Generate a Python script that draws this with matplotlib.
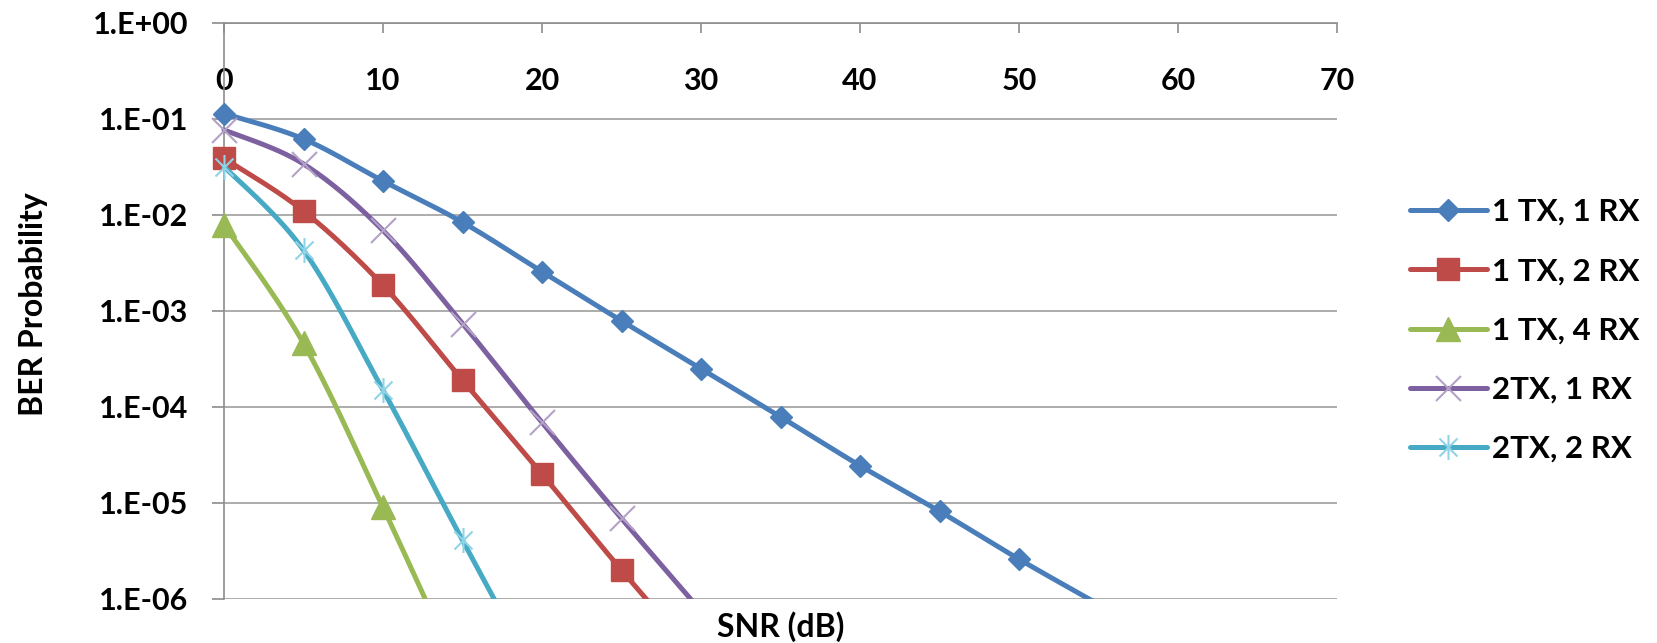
import numpy as np
import matplotlib
matplotlib.use('Agg')
import matplotlib.pyplot as plt
from matplotlib.lines import Line2D
from matplotlib.path import Path
from matplotlib.patches import Rectangle
from matplotlib.ticker import LogLocator, NullLocator, FuncFormatter

# ---------------- data ----------------
snr_1tx_1rx = [0, 5, 10, 15, 20, 25, 30, 35, 40, 45, 50, 55]
ber_1tx_1rx = [0.114, 0.062, 0.0226, 0.0084, 0.00257, 0.00079, 0.00025, 7.9e-5, 2.45e-5, 8.2e-6, 2.6e-6, 8.8e-7]

snr_1tx_2rx = [0, 5, 10, 15, 20, 25, 30]
ber_1tx_2rx = [0.039, 0.011, 0.00185, 0.00019, 2.0e-5, 2.0e-6, 2.2e-7]

snr_1tx_4rx = [0, 5, 10, 15]
ber_1tx_4rx = [0.0079, 0.00046, 9.0e-6, 1.4e-7]

snr_2tx_1rx = [0, 5, 10, 15, 20, 25, 30]
ber_2tx_1rx = [0.077, 0.034, 0.0069, 0.00074, 6.9e-5, 6.9e-6, 7.5e-7]

snr_2tx_2rx = [0, 5, 10, 15, 20]
ber_2tx_2rx = [0.032, 0.0043, 0.00015, 4.1e-6, 1.2e-7]

series_labels = ["1 TX, 1 RX", "1 TX, 2 RX", "1 TX, 4 RX", "2TX, 1 RX", "2TX, 2 RX"]
x_ticks = [0, 10, 20, 30, 40, 50, 60, 70]

# ---------------- style ----------------
plt.rcParams['font.family'] = ['Lato', 'DejaVu Sans']
plt.rcParams['font.weight'] = 'bold'

W, H = 1657, 643
L, R, T, B = 224, 1337, 23, 599
YMIN, YMAX = 1e-6, 1.0
fig = plt.figure(figsize=(W / 100, H / 100), dpi=100)
ax = fig.add_axes([L / W, 1 - B / H, (R - L) / W, (B - T) / H])
ax.set_xlim(0, 70)
ax.set_yscale('log')
ax.set_ylim(YMIN, YMAX)

gridc = '#A6A6A6'
axc = '#8C8C8C'

# star marker (vertical line + X) as in Excel
star_path = Path([(0, -1), (0, 1), (-0.72, -0.72), (0.72, 0.72), (-0.72, 0.72), (0.72, -0.72)],
                 [Path.MOVETO, Path.LINETO, Path.MOVETO, Path.LINETO, Path.MOVETO, Path.LINETO])

styles = [
    dict(color='#4A7EBB', marker='D', ms=11, mfc='#4A7EBB', mec='#4A7EBB', mew=1),
    dict(color='#BE4B48', marker='s', ms=16.5, mfc='#BE4B48', mec='#BE4B48', mew=1),
    dict(color='#98B954', marker='^', ms=17.5, mfc='#98B954', mec='#98B954', mew=1),
    dict(color='#7D60A0', marker='x', ms=18, mfc='none', mec='#B3A2C7', mew=1.5),
    dict(color='#46AAC5', marker=star_path, ms=18, mfc='none', mec='#8FD3E6', mew=1.5),
]

px_per_x = (R - L) / 70.0
px_per_dec = (B - T) / 6.0


def excel_smooth(x, y, n=30):
    """Excel-like smoothed line (Bezier through the points) in screen space."""
    P = np.column_stack([np.asarray(x, float) * px_per_x,
                         np.log10(np.asarray(y, float)) * px_per_dec])
    out = [P[0]]
    t = np.linspace(0, 1, n)[1:, None]
    for i in range(len(P) - 1):
        p0 = P[i - 1] if i > 0 else P[i]
        p1, p2 = P[i], P[i + 1]
        p3 = P[i + 2] if i + 2 < len(P) else P[i + 1]
        c1 = p1 + (p2 - p0) / 6.0
        c2 = p2 - (p3 - p1) / 6.0
        seg = (1 - t) ** 3 * p1 + 3 * (1 - t) ** 2 * t * c1 + 3 * (1 - t) * t ** 2 * c2 + t ** 3 * p2
        out.extend(seg)
    out = np.array(out)
    return out[:, 0] / px_per_x, 10 ** (out[:, 1] / px_per_dec)


clip_rect = Rectangle((-0.05, 0.0), 1.1, 1.0, transform=ax.transAxes)

data = [(snr_1tx_1rx, ber_1tx_1rx), (snr_1tx_2rx, ber_1tx_2rx), (snr_1tx_4rx, ber_1tx_4rx),
        (snr_2tx_1rx, ber_2tx_1rx), (snr_2tx_2rx, ber_2tx_2rx)]

LW = 3.6
handles = []
for k, ((xs, ys), st, lab) in enumerate(zip(data, styles, series_labels)):
    sx, sy = excel_smooth(xs, ys)
    ln, = ax.plot(sx, sy, color=st['color'], lw=LW, solid_capstyle='round', zorder=3 + k)
    ln.set_clip_path(clip_rect)
    # markers of points that fall outside the plotted range are not drawn (as in Excel)
    ys_arr = np.asarray(ys, float)
    ys_mk = np.where(ys_arr >= YMIN, ys_arr, np.nan)
    mk, = ax.plot(xs, ys_mk, ls='none', marker=st['marker'], ms=st['ms'], mfc=st['mfc'],
                  mec=st['mec'], mew=st['mew'], zorder=3 + k)
    mk.set_clip_path(clip_rect)
    handles.append(Line2D([], [], color=st['color'], lw=LW, marker=st['marker'], ms=st['ms'],
                          mfc=st['mfc'], mec=st['mec'], mew=st['mew'], solid_capstyle='round', label=lab))

# axes styling
for s in ['right', 'bottom']:
    ax.spines[s].set_visible(False)
for s in ['left', 'top']:
    ax.spines[s].set_color(axc)
    ax.spines[s].set_linewidth(1.2)

ax.grid(axis='y', which='major', color=gridc, lw=1.3)
ax.set_axisbelow(True)

ax.yaxis.set_major_locator(LogLocator(base=10, numticks=10))
ax.yaxis.set_minor_locator(NullLocator())
ax.yaxis.set_major_formatter(FuncFormatter(lambda v, p: "1.E%+03d" % int(round(np.log10(v)))))
ax.set_xticks(x_ticks)
ax.set_xticklabels([str(v) for v in x_ticks])

ax.tick_params(axis='x', which='both', bottom=False, top=True, labelbottom=False, labeltop=True,
               direction='in', length=7, width=1.2, color=axc, pad=-51.5, labelsize=22)
ax.tick_params(axis='y', which='major', direction='out', length=8.6, width=1.2, color=axc,
               pad=17, labelsize=22)

ax.set_ylabel('BER Probability', fontsize=23, fontweight='bold')
ax.yaxis.set_label_coords((48 - L) / (R - L), (B - 304) / (B - T))
ax.set_xlabel('SNR (dB)', fontsize=23, fontweight='bold')
ax.xaxis.set_label_position('bottom')
ax.xaxis.label.set_va('center')
ax.xaxis.set_label_coords(0.5, (B - 627) / (B - T))

leg = fig.legend(handles=handles, loc='upper left', bbox_to_anchor=(1410 / W, 1 - 198 / H),
                 frameon=False, fontsize=22.5, handlelength=2.46, handletextpad=0.16,
                 labelspacing=1.0, borderpad=0, borderaxespad=0)

fig.savefig('out.png', dpi=100)
